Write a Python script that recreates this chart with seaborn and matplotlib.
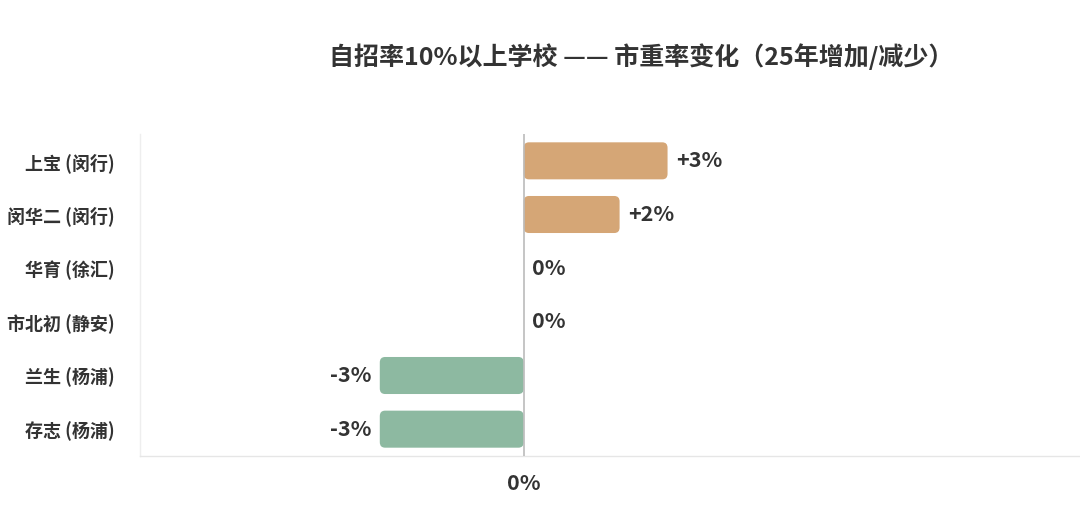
import matplotlib
matplotlib.use("Agg")
import matplotlib.pyplot as plt
import seaborn as sns
import pandas as pd
from matplotlib.patches import FancyBboxPatch

schools = ["上宝 (闵行)", "闵华二 (闵行)", "华育 (徐汇)", "市北初 (静安)", "兰生 (杨浦)", "存志 (杨浦)"]
changes = [3, 2, 0, 0, -3, -3]
value_labels = ["+3%", "+2%", "0%", "0%", "-3%", "-3%"]
title = "自招率10%以上学校 —— 市重率变化（25年增加/减少）"

sns.set_theme(style="white")
plt.rcParams["font.family"] = ["Noto Sans CJK SC", "DejaVu Sans"]

df = pd.DataFrame({"school": schools, "change": changes})
df["dir"] = ["up" if v > 0 else ("down" if v < 0 else "flat") for v in changes]
palette = {"up": "#D5A676", "down": "#8DB9A1", "flat": "#cccccc"}

fig = plt.figure(figsize=(10.8, 5.14), dpi=100)
ax = fig.add_axes([140 / 1080, 1 - 456 / 514, (1080 - 140) / 1080, (456 - 134) / 514])

sns.barplot(data=df, x="change", y="school", hue="dir", palette=palette,
            dodge=False, legend=False, width=0.69, ax=ax, orient="h",
            saturation=1)

ax.set_xlim(-8, 11.6)
ax.set_ylim(5.5, -0.5)

# rounded bars
for p in list(ax.patches):
    x, y = p.get_x(), p.get_y()
    w, h = p.get_width(), p.get_height()
    if w == 0 or h == 0:
        p.remove()
        continue
    fc = p.get_facecolor()
    p.remove()
    x0 = min(x, x + w)
    fb = FancyBboxPatch((x0, y), abs(w), h,
                        boxstyle="round,pad=0,rounding_size=0.11",
                        mutation_aspect=0.93, facecolor=fc, edgecolor="none",
                        zorder=2)
    ax.add_patch(fb)

lab_fs = 15.5
for i, (v, lab) in enumerate(zip(changes, value_labels)):
    if v > 0:
        ax.text(v + 0.17, i, lab, ha="left", va="center", fontsize=lab_fs,
                fontweight="bold", color="#333333")
    elif v < 0:
        ax.text(v - 0.17, i, lab, ha="right", va="center", fontsize=lab_fs,
                fontweight="bold", color="#333333")
    else:
        ax.text(0.17, i, lab, ha="left", va="center", fontsize=lab_fs,
                fontweight="bold", color="#333333")

ax.axvline(0, color="#bbbbbb", lw=1.2, zorder=3)

for s in ["top", "right"]:
    ax.spines[s].set_visible(False)
ax.spines["left"].set_color("#eeeeee")
ax.spines["bottom"].set_color("#e6e6e6")
ax.spines["left"].set_linewidth(1)
ax.spines["bottom"].set_linewidth(1)

ax.set_xticks([0])
ax.set_xticklabels(["0%"], fontsize=lab_fs, fontweight="bold", color="#333333")
ax.tick_params(axis="x", length=0, pad=12)
ax.tick_params(axis="y", length=0, pad=18)
for t in ax.get_yticklabels():
    t.set_fontsize(13)
    t.set_fontweight("bold")
    t.set_color("#333333")
ax.set_xlabel("")
ax.set_ylabel("")

fig.text(641 / 1080, 1 - 57 / 514, title, ha="center", va="center",
         fontsize=18, fontweight="bold", color="#333333")

fig.savefig("out.png", dpi=100, facecolor="white")
